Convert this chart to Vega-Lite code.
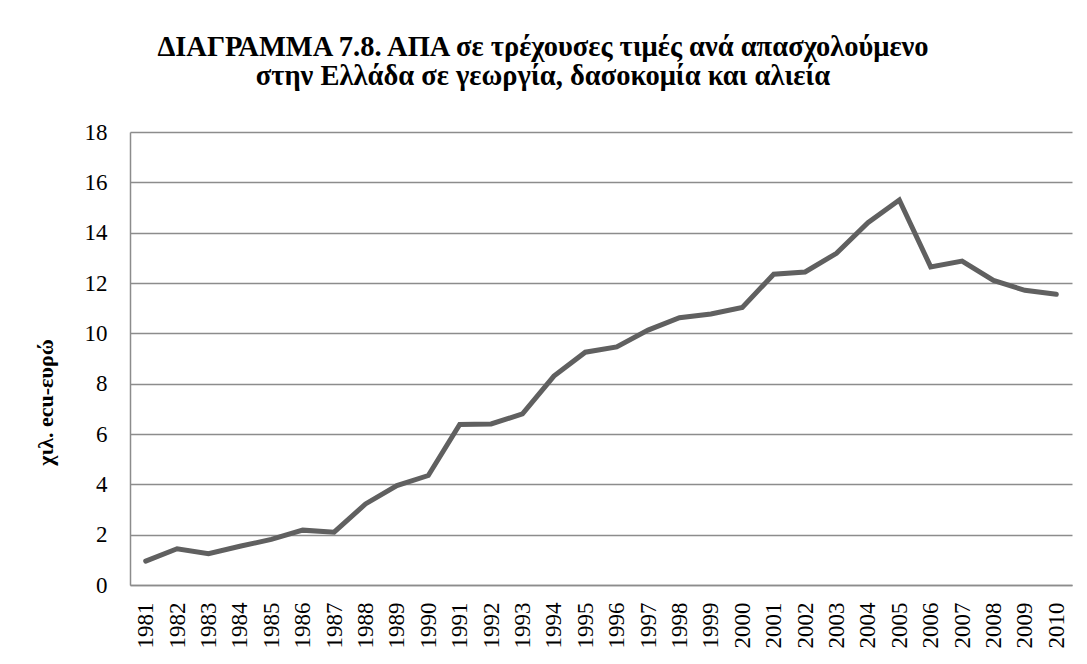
{
  "$schema": "https://vega.github.io/schema/vega-lite/v6.json",
  "autosize": "none",
  "width": 942,
  "height": 453,
  "padding": {"left": 130, "top": 132, "right": 15, "bottom": 79},
  "background": "white",
  "title": {
    "text": ["ΔΙΑΓΡΑΜΜΑ 7.8. ΑΠΑ σε τρέχουσες τιμές ανά απασχολούμενο", "στην Ελλάδα σε γεωργία, δασοκομία και αλιεία"],
    "font": "Liberation Serif",
    "fontSize": 28.5,
    "fontWeight": "bold",
    "color": "#000000",
    "anchor": "middle",
    "lineHeight": 29,
    "offset": 31,
    "dx": -58
  },
  "data": {
    "values": [
      {"year": "1981", "value": 0.95},
      {"year": "1982", "value": 1.44},
      {"year": "1983", "value": 1.24},
      {"year": "1984", "value": 1.54},
      {"year": "1985", "value": 1.81},
      {"year": "1986", "value": 2.18},
      {"year": "1987", "value": 2.1},
      {"year": "1988", "value": 3.22},
      {"year": "1989", "value": 3.95},
      {"year": "1990", "value": 4.35},
      {"year": "1991", "value": 6.38},
      {"year": "1992", "value": 6.4},
      {"year": "1993", "value": 6.8},
      {"year": "1994", "value": 8.3},
      {"year": "1995", "value": 9.25},
      {"year": "1996", "value": 9.46},
      {"year": "1997", "value": 10.13},
      {"year": "1998", "value": 10.62},
      {"year": "1999", "value": 10.77},
      {"year": "2000", "value": 11.03},
      {"year": "2001", "value": 12.35},
      {"year": "2002", "value": 12.44},
      {"year": "2003", "value": 13.18},
      {"year": "2004", "value": 14.4},
      {"year": "2005", "value": 15.3},
      {"year": "2006", "value": 12.64},
      {"year": "2007", "value": 12.87},
      {"year": "2008", "value": 12.1},
      {"year": "2009", "value": 11.71},
      {"year": "2010", "value": 11.55}
    ]
  },
  "mark": {"type": "line", "color": "#606060", "strokeWidth": 5, "strokeJoin": "miter", "strokeCap": "round"},
  "encoding": {
    "x": {
      "field": "year",
      "type": "ordinal",
      "scale": {"type": "point", "padding": 0.5},
      "axis": {
        "title": null,
        "labelAngle": -90,
        "labelFont": "Liberation Serif",
        "labelFontSize": 23,
        "labelColor": "#000000",
        "labelPadding": 17,
        "ticks": false,
        "grid": false,
        "domainColor": "#8c8c8c",
        "domainWidth": 1.5
      }
    },
    "y": {
      "field": "value",
      "type": "quantitative",
      "scale": {"domain": [0, 18], "nice": false},
      "axis": {
        "values": [0, 2, 4, 6, 8, 10, 12, 14, 16, 18],
        "title": "χιλ. ecu-ευρώ",
        "titleFont": "Liberation Serif",
        "titleFontSize": 22,
        "titleFontWeight": "bold",
        "titleColor": "#000000",
        "titleX": -85,
        "titleY": 270,
        "titleAngle": -90,
        "titleBaseline": "middle",
        "titleAlign": "center",
        "labelFont": "Liberation Serif",
        "labelFontSize": 23,
        "labelColor": "#000000",
        "labelPadding": 23,
        "ticks": false,
        "grid": true,
        "gridColor": "#8c8c8c",
        "gridWidth": 1.5,
        "domainColor": "#8c8c8c",
        "domainWidth": 1.5
      }
    }
  },
  "config": {"view": {"stroke": null}}
}
